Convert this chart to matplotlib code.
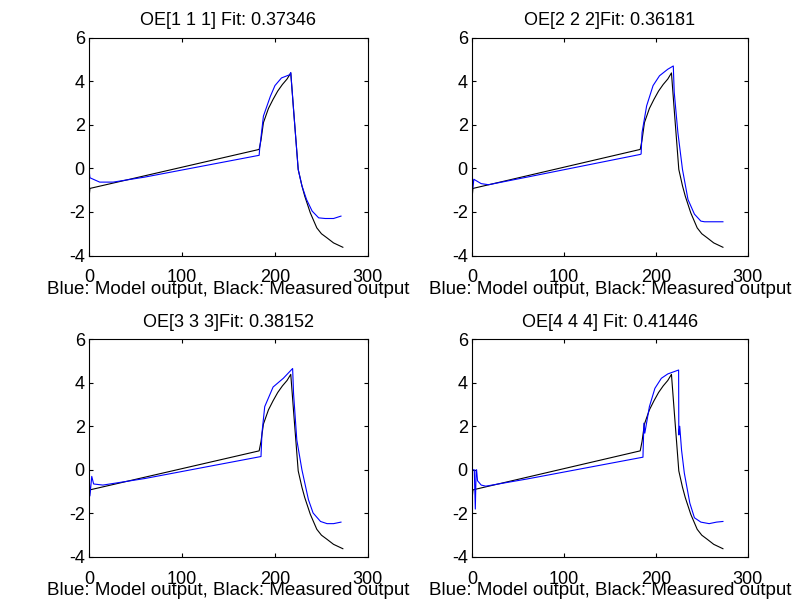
import numpy as np
import matplotlib.pyplot as plt

plt.rcParams['font.family'] = ['Liberation Sans', 'DejaVu Sans']
plt.rcParams['font.size'] = 13
plt.rcParams['axes.unicode_minus'] = False

# measured output (black), same in every panel
meas_x = [0, 1, 183, 185, 187.6, 193, 198, 203, 208, 213, 217, 220, 225, 229, 232, 238, 245, 250, 256, 263, 268, 273]
meas_y = [-1.4, -0.92, 0.87, 1.3, 2.1, 2.75, 3.17, 3.55, 3.85, 4.1, 4.38, 2.7, -0.05, -0.8, -1.27, -2.04, -2.73, -3.0, -3.19, -3.42, -3.52, -3.62]

# model outputs (blue)
m1_x = [0, 1, 11.5, 26, 60, 183, 183.5, 187.6, 195, 200, 207, 216, 217, 220, 225, 229, 234, 240, 247, 254, 263, 271]
m1_y = [0, -0.43, -0.63, -0.63, -0.4, 0.6, 0.87, 2.4, 3.3, 3.8, 4.15, 4.3, 4.4, 2.7, -0.05, -0.8, -1.43, -1.96, -2.27, -2.3, -2.3, -2.19]

m2_x = [0, 1, 2, 10, 18, 60, 183, 184, 185, 190, 197, 204, 213, 219, 220, 224, 229, 235, 242, 249, 253, 273]
m2_y = [0, -0.9, -0.5, -0.7, -0.75, -0.4, 0.64, 0.66, 1.64, 2.87, 3.8, 4.25, 4.55, 4.7, 3.5, 1.64, -0.05, -1.43, -2.1, -2.42, -2.45, -2.45]

m3_x = [0, 1, 3, 5, 15, 60, 185, 186, 189, 198, 209, 219, 220, 223.5, 229, 236, 241, 249, 256, 263, 271]
m3_y = [0, -1.2, -0.3, -0.65, -0.7, -0.4, 0.61, 1.68, 2.9, 3.8, 4.2, 4.65, 3.5, 1.37, 0, -1.37, -1.98, -2.37, -2.47, -2.47, -2.4]

m4_x = [0, 2.5, 3.6, 4.5, 5, 6, 10, 15, 60, 186, 187, 188, 193, 199, 206, 213, 224.8, 225, 226, 228, 231, 237, 242, 249, 258, 266, 273]
m4_y = [0, 0, -1.8, 0, 0, -0.5, -0.7, -0.75, -0.42, 0.58, 2.14, 1.68, 2.9, 3.74, 4.2, 4.4, 4.58, 1.6, 2.0, 0.9, -0.15, -1.53, -2.2, -2.4, -2.47, -2.4, -2.37]

titles = ["OE[1 1 1] Fit: 0.37346", "OE[2 2 2]Fit: 0.36181",
          "OE[3 3 3]Fit: 0.38152", "OE[4 4 4] Fit: 0.41446"]
models = [(m1_x, m1_y), (m2_x, m2_y), (m3_x, m3_y), (m4_x, m4_y)]
xticks = [0, 100, 200, 300]
yticks = [-4, -2, 0, 2, 4, 6]

fig = plt.figure(figsize=(8.11, 6.07), dpi=100)
boxes = [[0.1097, 0.579, 0.344, 0.359], [0.582, 0.579, 0.340, 0.359],
         [0.1097, 0.0824, 0.344, 0.359], [0.582, 0.0824, 0.340, 0.359]]

for i in range(4):
    ax = fig.add_axes(boxes[i])
    ax.plot(meas_x, meas_y, color='black', lw=0.8)
    ax.plot(models[i][0], models[i][1], color=(0, 0, 1), lw=0.8)
    ax.set_xlim(0, 300)
    ax.set_ylim(-4, 6)
    ax.set_xticks(xticks)
    ax.set_yticks(yticks)
    ax.tick_params(direction='in', top=True, right=True, length=3, width=0.8)
    ax.tick_params(axis='x', pad=10)
    ax.tick_params(axis='y', pad=3)
    for s in ax.spines.values():
        s.set_linewidth(0.8)
    ax.set_title(titles[i], fontsize=13, pad=9)
    ax.set_xlabel("Blue: Model output, Black: Measured output", fontsize=13.5, labelpad=-4)

fig.savefig("out.png", dpi=100)
